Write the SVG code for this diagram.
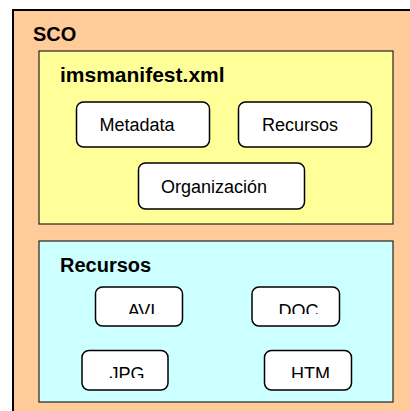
<svg xmlns="http://www.w3.org/2000/svg" width="410" height="411" viewBox="0 0 410 411">
<style>
.title{font-family:"Liberation Sans",Arial,sans-serif;font-weight:bold;font-size:20px;fill:#000}
.lbl{font-family:"Liberation Sans",Arial,sans-serif;font-size:18px;fill:#000;text-anchor:middle}
.node{fill:#fff;stroke:#000;stroke-width:1.5}
.panel{stroke:#222;stroke-width:1.2}
</style>
<defs>
<clipPath id="row1" clipPathUnits="userSpaceOnUse"><rect x="0" y="290" width="410" height="24"/></clipPath>
<clipPath id="row2" clipPathUnits="userSpaceOnUse"><rect x="0" y="354" width="410" height="24"/></clipPath>
</defs>
<rect width="410" height="411" fill="#fff"/>
<g id="sco">
<rect x="13" y="10" width="410" height="420" fill="#FFCC99" stroke="#000" stroke-width="2"/>
<text class="title" x="33" y="41">SCO</text>
</g>
<g id="manifest">
<rect class="panel" x="39" y="51" width="354" height="173" fill="#FFFF99"/>
<text class="title" x="60" y="82" style="font-size:21px">imsmanifest.xml</text>
</g>
<g id="metadata">
<rect class="node" x="76.5" y="102" width="133" height="45" rx="7"/>
<text class="lbl" x="137" y="131">Metadata</text>
</g>
<g id="recursos-m">
<rect class="node" x="238.5" y="102" width="133" height="45" rx="7"/>
<text class="lbl" x="300" y="131">Recursos</text>
</g>
<g id="organizacion">
<rect class="node" x="138.5" y="163" width="166" height="46" rx="7"/>
<text class="lbl" x="214" y="193">Organización</text>
</g>
<g id="recursos">
<rect class="panel" x="39" y="241" width="354" height="161" fill="#CCFFFF"/>
<text class="title" x="60" y="272">Recursos</text>
</g>
<g id="avi">
<rect class="node" x="95.5" y="287" width="87" height="39" rx="7"/>
<text class="lbl" x="141.5" y="316.5" clip-path="url(#row1)">AVI</text>
</g>
<g id="doc">
<rect class="node" x="252" y="287" width="87.5" height="39" rx="7"/>
<text class="lbl" x="298.5" y="316.5" clip-path="url(#row1)">DOC</text>
</g>
<g id="jpg">
<rect class="node" x="82" y="350.5" width="86" height="39.5" rx="7"/>
<text class="lbl" x="127" y="379.5" clip-path="url(#row2)">JPG</text>
</g>
<g id="htm">
<rect class="node" x="264.5" y="350.5" width="87" height="39.5" rx="7"/>
<text class="lbl" x="310.5" y="379.5" clip-path="url(#row2)">HTM</text>
</g>
<g id="connectors"/>
</svg>
